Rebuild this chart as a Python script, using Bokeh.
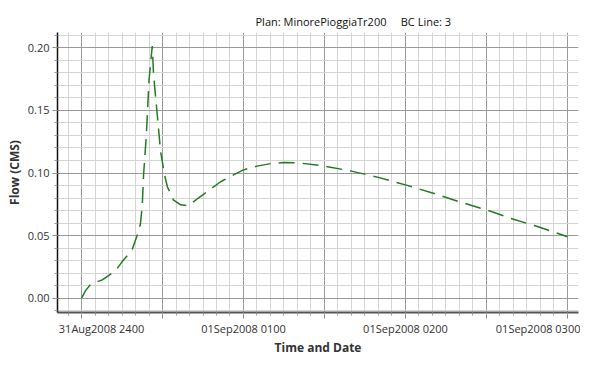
from bokeh.plotting import figure
from bokeh.models import FixedTicker, Range1d, Title
from bokeh.embed import file_html
from bokeh.resources import INLINE

# minutes after 31Aug2008 2400
times = [0, 1.5, 3.3, 5.5, 7.7, 10, 12.6, 15, 17, 18.8, 20.6, 21.8, 22.5, 23,
         24, 25, 26.2, 26.7, 28, 29.3, 30.8, 31.8, 34, 36.7, 39.6, 43.3, 46.7,
         51.5, 56.3, 60, 65, 70, 75, 80, 90, 100, 110, 120, 130, 140, 150,
         160, 170, 180]
flow = [0.0, 0.006, 0.0108, 0.0128, 0.0146, 0.018, 0.022, 0.029, 0.034, 0.039,
        0.05, 0.059, 0.074, 0.099, 0.13, 0.174, 0.2015, 0.178, 0.148, 0.117,
        0.098, 0.089, 0.0785, 0.0746, 0.0738, 0.080, 0.0853, 0.093, 0.0985,
        0.1025, 0.1055, 0.1075, 0.1083, 0.1082, 0.1055, 0.1015, 0.0965,
        0.0905, 0.084, 0.077, 0.0705, 0.063, 0.0565, 0.049]

x_ticks = [0, 30, 60, 90, 120, 150, 180]
x_tick_labels = ["31Aug2008 2400", "", "01Sep2008 0100", "", "01Sep2008 0200",
                 "", "01Sep2008 0300"]
x_minor = list(range(-5, 190, 5))
y_ticks = [0.0, 0.05, 0.10, 0.15, 0.20]
y_tick_labels = ["0.00", "0.05", "0.10", "0.15", "0.20"]
y_minor = [round(-0.01 + 0.01 * i, 2) for i in range(23)]

title_text = "Plan: MinorePioggiaTr200\u00a0\u00a0\u00a0\u00a0\u00a0BC Line: 3"

FONT = "Open Sans"
X_MIN, X_MAX = -8.9, 184.1
NB = "\u00a0"

p = figure(width=580, height=358, output_backend="svg", toolbar_location=None,
           x_range=Range1d(X_MIN, X_MAX), y_range=Range1d(-0.0115, 0.2123),
           min_border_left=57, min_border_right=2, min_border_top=32,
           min_border_bottom=43)
p.title = Title(text=title_text, align="left", offset=198,
                text_font=FONT, text_font_size="11px", text_font_style="normal",
                text_color="#111111", standoff=8)
p.outline_line_color = None
p.background_fill_color = "white"
p.border_fill_color = "white"

p.line(times, flow, line_color="#237a23", line_width=1.5, line_dash="16 8")

# the first label starts at the plot's left edge, as in the original
overrides = {t: l for t, l in zip(x_ticks, x_tick_labels)}
overrides[x_ticks[0]] = NB * 14 + overrides[x_ticks[0]]

p.xaxis.ticker = FixedTicker(ticks=x_ticks, minor_ticks=x_minor)
p.xaxis.major_label_overrides = overrides
p.yaxis.ticker = FixedTicker(ticks=y_ticks, minor_ticks=y_minor)
p.yaxis.major_label_overrides = {t: l for t, l in zip(y_ticks, y_tick_labels)}

for ax in (p.xaxis, p.yaxis):
    ax.major_label_text_font = FONT
    ax.major_label_text_font_size = "11px"
    ax.major_label_text_color = "#333333"
    ax.axis_label_text_font = FONT
    ax.axis_label_text_font_size = "12px"
    ax.axis_label_text_font_style = "bold"
    ax.axis_label_text_color = "#333333"
    ax.major_tick_in = 0
    ax.minor_tick_in = 0
    ax.major_tick_line_color = "#888888"
    ax.minor_tick_line_color = "#999999"

p.xaxis.axis_label = "Time and Date"
p.yaxis.axis_label = "Flow (CMS)"
p.xaxis.major_tick_out = 6
p.xaxis.minor_tick_out = 3
p.yaxis.major_tick_out = 5
p.yaxis.minor_tick_out = 3
p.xaxis.axis_line_color = "#555555"
p.xaxis.axis_line_width = 2
p.yaxis.axis_line_color = "#111111"
p.yaxis.axis_line_width = 1.5
p.xaxis.major_label_standoff = 2
p.yaxis.major_label_standoff = 3
p.xaxis.axis_label_standoff = 0
p.yaxis.axis_label_standoff = 2

for g in (p.xgrid, p.ygrid):
    g.grid_line_color = "#9a9a9a"
    g.grid_line_width = 1
    g.minor_grid_line_color = "#d4d4d4"
    g.minor_grid_line_width = 1

open("out.html", "w").write(file_html(p, INLINE))
